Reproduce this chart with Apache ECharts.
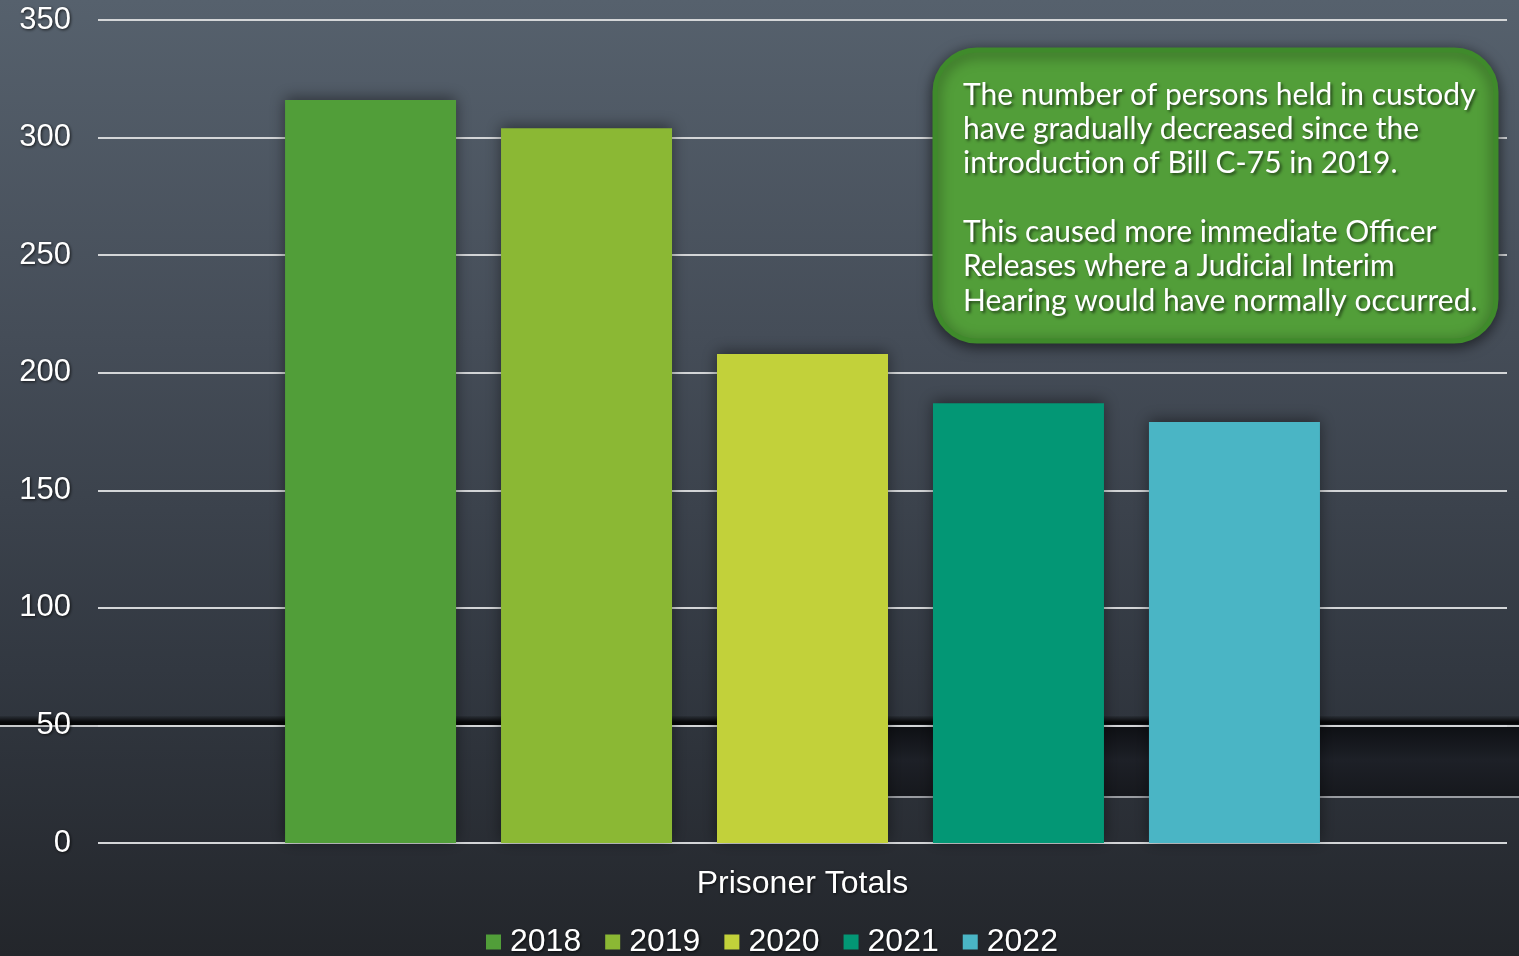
<!DOCTYPE html>
<html>
<head>
<meta charset="utf-8">
<title>Prisoner Totals</title>
<script src="https://cdn.jsdelivr.net/npm/echarts@6/dist/echarts.min.js"></script>
<style>
  html, body { margin: 0; padding: 0; background: #2b2f36; }
  #chart { width: 1519px; height: 956px; }
</style>
</head>
<body>
<div id="chart"></div>
<script>
// Prisoner totals per year
const category = ['Prisoner Totals'];
const years = ['2018', '2019', '2020', '2021', '2022'];
const totals = [316, 304, 208, 187, 179];
const yearColors = ['#519e39', '#8bb834', '#c2d13a', '#039775', '#4ab5c5'];
const yTicks = { min: 0, max: 350, interval: 50 };
const noteLines = [
  'The number of persons held in custody',
  'have gradually decreased since the',
  'introduction of Bill C-75 in 2019.',
  '',
  'This caused more immediate Officer',
  'Releases where a Judicial Interim',
  'Hearing would have normally occurred.'
];

const chart = echarts.init(document.getElementById('chart'), null, { renderer: 'canvas' });

const labelShadow = {
  textShadowColor: 'rgba(0,0,0,0.75)',
  textShadowBlur: 3,
  textShadowOffsetX: 1,
  textShadowOffsetY: 1
};

const series = years.map((y, i) => ({
  name: y,
  type: 'bar',
  data: [totals[i]],
  barWidth: 171,
  barGap: '26.3%',
  itemStyle: {
    color: yearColors[i],
    shadowColor: 'rgba(0,0,0,0.45)',
    shadowBlur: 14,
    shadowOffsetY: -2
  },
  z: 5
}));

chart.setOption({
  backgroundColor: {
    type: 'linear', x: 0, y: 0, x2: 0, y2: 1,
    colorStops: [
      { offset: 0, color: '#56616d' },
      { offset: 0.35, color: '#454d58' },
      { offset: 0.7, color: '#323841' },
      { offset: 1, color: '#23262b' }
    ]
  },
  animation: false,
  grid: { left: 98, right: 12, top: 20, bottom: 113 },
  xAxis: {
    type: 'category',
    data: category,
    axisLine: { show: false },
    axisTick: { show: false },
    axisLabel: {
      color: '#ffffff',
      fontFamily: 'Liberation Sans, Arial, sans-serif',
      fontSize: 32,
      margin: 25,
      ...labelShadow
    }
  },
  yAxis: {
    type: 'value',
    min: yTicks.min,
    max: yTicks.max,
    interval: yTicks.interval,
    axisLine: { show: false },
    axisTick: { show: false },
    axisLabel: {
      color: '#ffffff',
      fontFamily: 'Liberation Sans, Arial, sans-serif',
      fontSize: 31,
      margin: 27,
      ...labelShadow
    },
    splitLine: { lineStyle: { color: '#d4d6d8', width: 2 } }
  },
  legend: {
    data: years,
    bottom: -7,
    left: 481,
    itemWidth: 15,
    itemHeight: 15,
    itemGap: 24,
    icon: 'rect',
    textStyle: {
      color: '#ffffff',
      fontFamily: 'Liberation Sans, Arial, sans-serif',
      fontSize: 32,
      padding: [0, 0, 0, 4],
      ...labelShadow
    }
  },
  graphic: [
    // dark strip across the backdrop
    {
      type: 'rect', z: -10, silent: true,
      shape: { x: 0, y: 716, width: 1519, height: 10 },
      style: {
        fill: {
          type: 'linear', x: 0, y: 0, x2: 0, y2: 1,
          colorStops: [
            { offset: 0, color: 'rgba(0,0,0,0.1)' },
            { offset: 0.6, color: 'rgba(0,0,0,0.85)' },
            { offset: 1, color: 'rgba(0,0,0,0.9)' }
          ]
        }
      }
    },
    // textured dark band on the right
    {
      type: 'rect', z: -10, silent: true,
      shape: { x: 800, y: 724, width: 719, height: 72 },
      style: {
        fill: {
          type: 'linear', x: 0, y: 0, x2: 0, y2: 1,
          colorStops: [
            { offset: 0, color: '#0d0f13' },
            { offset: 0.5, color: '#1d2027' },
            { offset: 1, color: '#16181d' }
          ]
        }
      }
    },
    {
      type: 'line', z: -9, silent: true,
      shape: { x1: 0, y1: 726, x2: 1519, y2: 726 },
      style: { stroke: '#c8cacc', lineWidth: 2 }
    },
    {
      type: 'line', z: -9, silent: true,
      shape: { x1: 800, y1: 797, x2: 1519, y2: 797 },
      style: { stroke: '#9a9da2', lineWidth: 2 }
    },
    // annotation box
    {
      type: 'rect', zlevel: 1, z: 100,
      shape: { x: 935, y: 50, width: 561, height: 291, r: 42 },
      style: {
        fill: '#529e39',
        stroke: '#3f8a2b',
        lineWidth: 5,
        shadowColor: 'rgba(0,0,0,0.55)',
        shadowBlur: 14,
        shadowOffsetY: 3
      }
    },
    {
      type: 'text', zlevel: 1, z: 101,
      x: 963, y: 78,
      style: {
        text: noteLines.join('\n'),
        fill: '#ffffff',
        fontFamily: 'Lato, "Open Sans", sans-serif',
        fontSize: 30,
        lineHeight: 34.3,
        textShadowColor: 'rgba(0,0,0,0.55)',
        textShadowBlur: 3,
        textShadowOffsetX: 2,
        textShadowOffsetY: 2
      }
    }
  ],
  series: series
});
</script>
</body>
</html>
